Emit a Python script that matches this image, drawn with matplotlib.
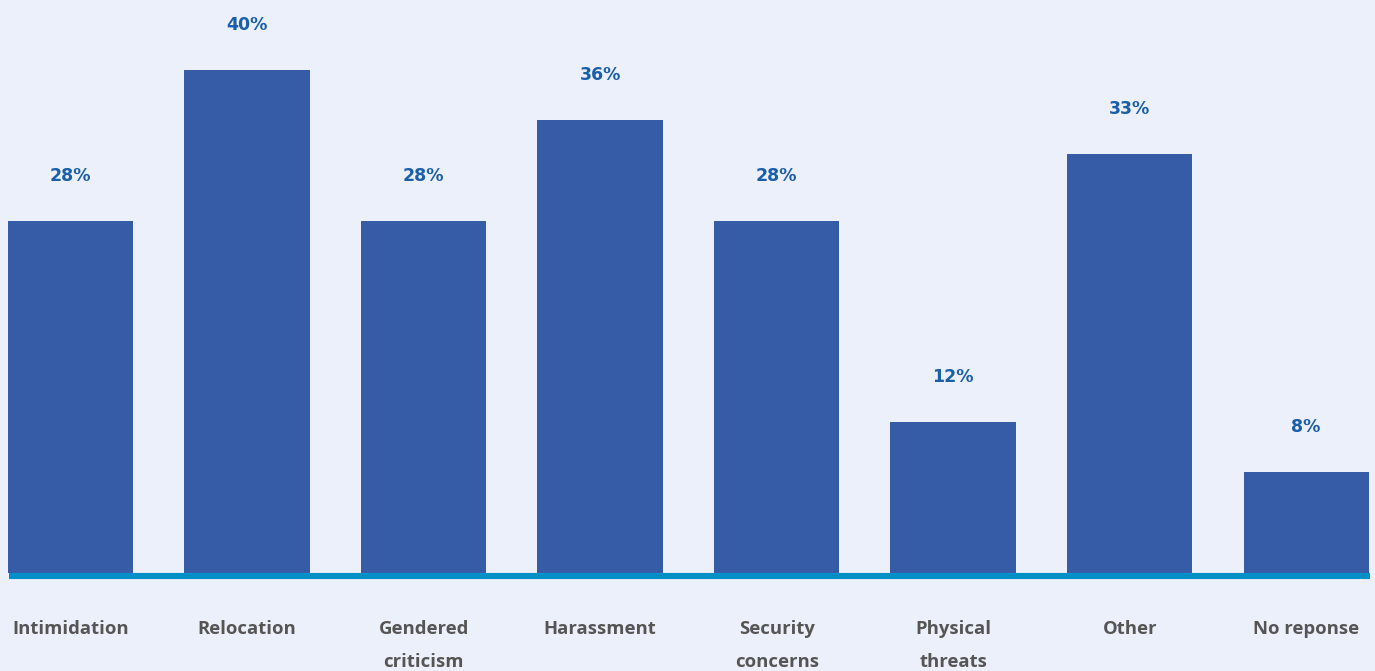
import matplotlib.pyplot as plt

categories = ["Intimidation", "Relocation", "Gendered\ncriticism", "Harassment",
              "Security\nconcerns", "Physical\nthreats", "Other", "No reponse"]
values = [28, 40, 28, 36, 28, 12, 33.3, 8]
labels = ["28%", "40%", "28%", "36%", "28%", "12%", "33%", "8%"]

bg = "#ecf0fa"
bar_color = "#365ca8"
label_color = "#1a5fa8"
base_color = "#0090c8"

fig = plt.figure(figsize=(13.75, 6.71), dpi=100, facecolor=bg)
# axes bottom sits on the baseline (573 px from top)
ax = fig.add_axes([0, 98 / 671, 1, 573 / 671])
ax.set_facecolor(bg)

x = list(range(len(categories)))
ax.bar(x, values, width=0.71, color=bar_color, zorder=2)

ax.set_xlim(-0.4, 7.39)
ax.set_ylim(0, 45.57)
ppu = 573 / 45.57  # pixels per percent

# thick baseline just under the bars
ax.plot([-0.35, 7.36], [-3 / ppu, -3 / ppu], color=base_color, lw=4.4,
        solid_capstyle="butt", clip_on=False, zorder=3)

for xi, v, lab in zip(x, values, labels):
    ax.text(xi, v + 45 / ppu, lab, ha="center", va="center", color=label_color,
            fontsize=12.5, fontweight="bold", family="DejaVu Sans")

for xi, cat in zip(x, categories):
    ax.text(xi, -47 / ppu, cat, ha="center", va="top", color="#555555",
            fontsize=13.3, fontweight="bold", family="Open Sans", linespacing=2.1,
            clip_on=False)

ax.axis("off")

fig.savefig("out.png", dpi=100, facecolor=bg)
